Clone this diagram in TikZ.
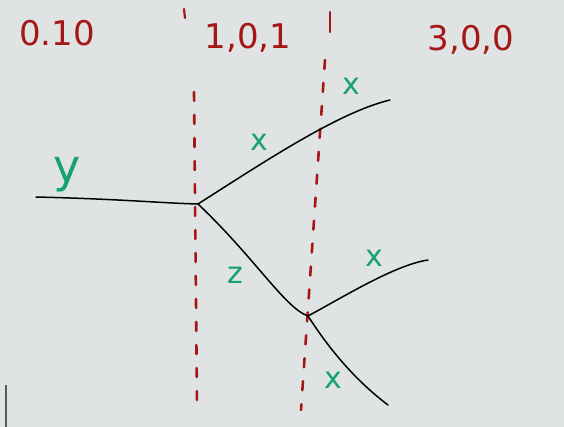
\documentclass[tikz,border=0pt]{standalone}
\usepackage{fontspec}
\setsansfont{DejaVu Sans}
\begin{document}
\begin{tikzpicture}[x=1pt,y=-1pt,
  board/.style={fill=boardgray,draw=none},
  edge/.style={draw=black,line width=1.5pt,line cap=round},
  cut/.style={draw=markred,line width=2.6pt,dash pattern=on 9pt off 14pt,line cap=round},
  tick/.style={draw=markred,line width=2.2pt,line cap=round},
  toplabel/.style={text=markred,font=\sffamily\fontsize{34}{34}\selectfont,inner sep=0pt},
  varlabel/.style={text=markgreen,font=\sffamily\fontsize{30}{30}\selectfont,inner sep=0pt}
]
\definecolor{boardgray}{RGB}{224,227,227}
\definecolor{markred}{RGB}{165,22,22}
\definecolor{markgreen}{RGB}{22,160,115}
% board
\path[board] (0,0) rectangle (564,427);
\useasboundingbox (0,0) rectangle (564,427);
\draw[gray!70!black,line width=1.5pt] (6,385) -- (6,427);
% cut lines
\coordinate (c1t) at (194,92);
\coordinate (c1b) at (197,405);
\coordinate (c2t) at (325,60);
\coordinate (c2b) at (301,410);
\draw[cut] (c1t) -- (c1b);
\draw[cut] (c2t) -- (c2b);
\coordinate (t1a) at (184,9); \coordinate (t1b) at (185,18);
\coordinate (t2a) at (330,12); \coordinate (t2b) at (330,32);
\draw[tick] (t1a) -- (t1b);
\draw[tick] (t2a) -- (t2b);
% graph points
\coordinate (L) at (36,197);
\coordinate (A) at (198,204);
\coordinate (U) at (390,100);
\coordinate (B) at (308,316);
\coordinate (R) at (428,260);
\coordinate (D) at (388,405);
\draw[edge] (L) .. controls (120,199) and (160,203) .. (A);
\draw[edge] (A) .. controls (270,158) and (340,112) .. (U);
\draw[edge] (A) .. controls (255,258) and (285,308) .. (B);
\draw[edge] (B) .. controls (345,296) and (395,265) .. (R);
\draw[edge] (B) .. controls (330,350) and (355,380) .. (D);
% top labels
\node[toplabel] (s0) at (57,33) {0.10};
\node[toplabel] (s1) at (248,38) {1,0,1};
\node[toplabel] (s2) at (471,40) {3,0,0};
% variable labels
\node[varlabel,font=\sffamily\fontsize{46}{46}\selectfont] (ly) at (67,175) {y};
\node[varlabel] (lx1) at (259,142) {x};
\node[varlabel] (lx2) at (351,86) {x};
\node[varlabel] (lz) at (235,275) {z};
\node[varlabel] (lx3) at (374,258) {x};
\node[varlabel] (lx4) at (333,380) {x};
\end{tikzpicture}
\end{document}
